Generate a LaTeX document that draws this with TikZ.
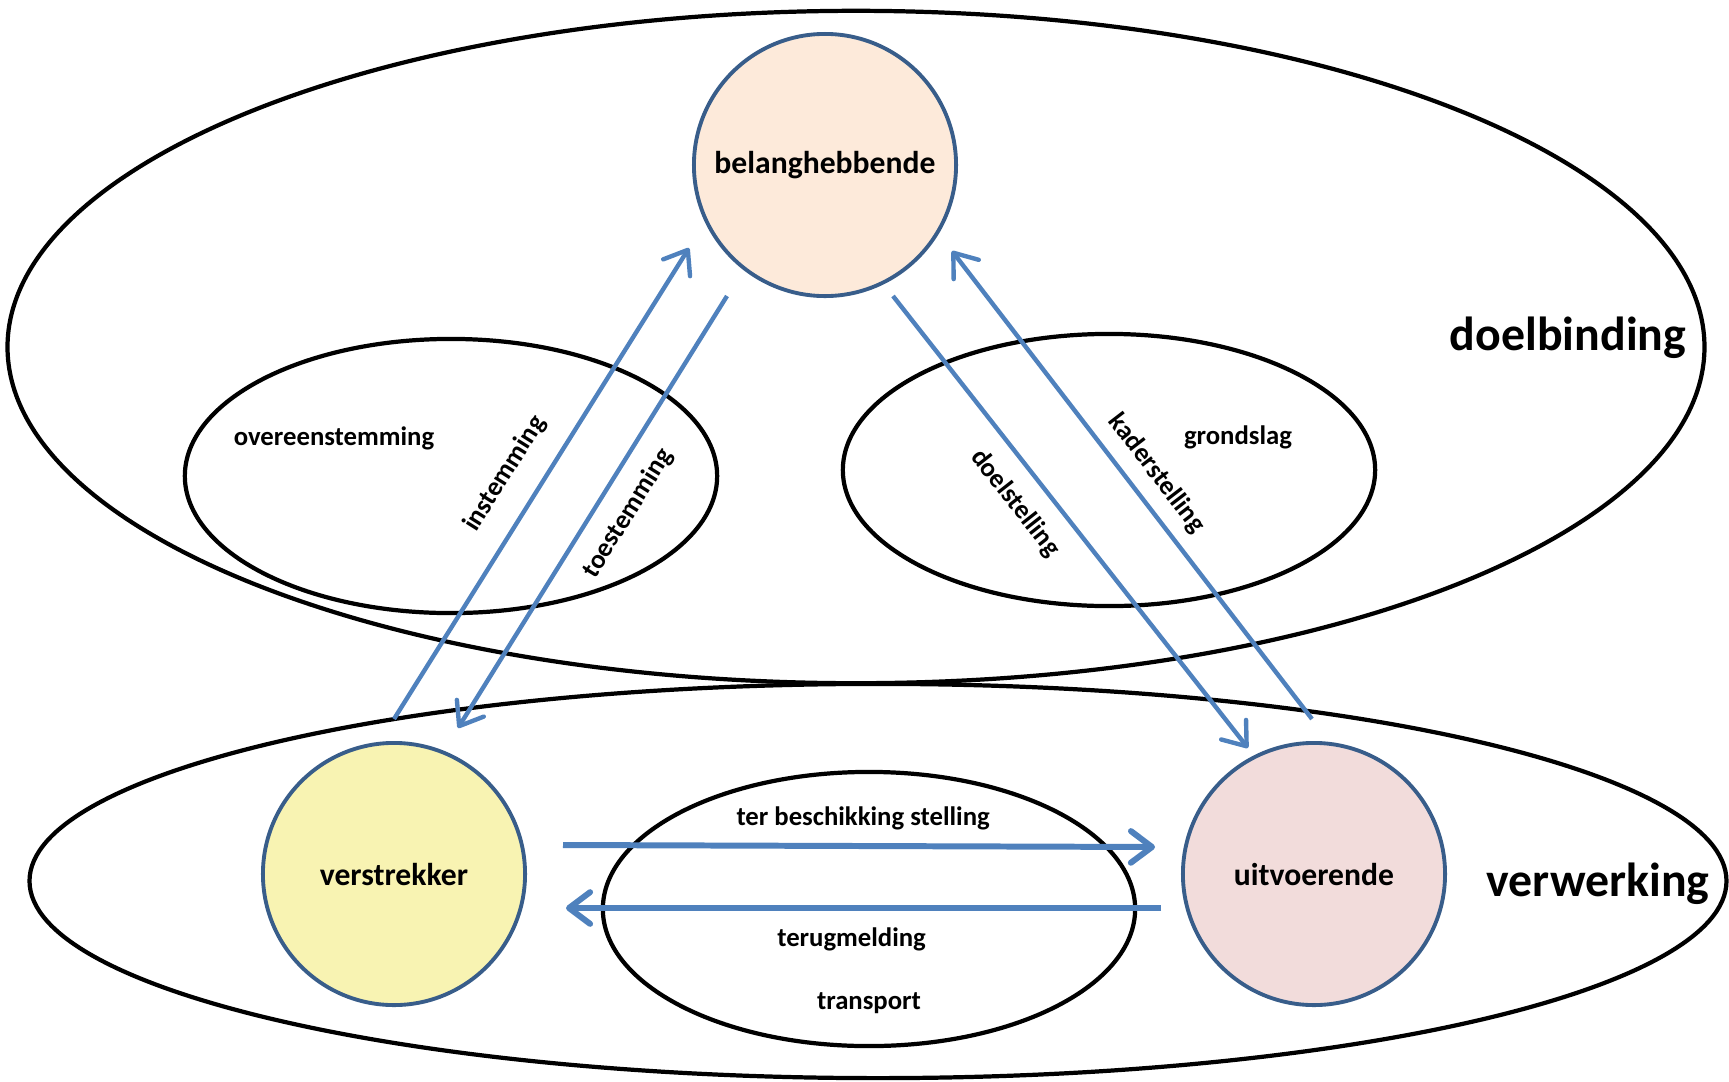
\documentclass[tikz,border=0pt]{standalone}
\usepackage{fontspec}
\setmainfont{Carlito}
\usetikzlibrary{arrows.meta}
\definecolor{arrowblue}{RGB}{79,129,189}
\definecolor{circleline}{RGB}{56,93,138}
\definecolor{stakeholder}{RGB}{253,234,218}
\definecolor{provider}{RGB}{248,243,178}
\definecolor{executor}{RGB}{242,220,219}

\begin{document}
\begin{tikzpicture}[x=0.01cm, y=-0.01cm,
        frame/.style={line width=1.2pt},
        party/.style={circle, draw=circleline, line width=1.1pt, minimum size=2.62cm,
            font=\fontsize{9}{11}\selectfont\bfseries},
        flow/.style={draw=arrowblue, line width=1.25pt, -{Straight Barb[length=6pt, width=9pt, round]}},
        thickflow/.style={flow, line width=1.7pt},
        lbl/.style={font=\fontsize{7.6}{9}\selectfont\bfseries},
        area/.style={font=\fontsize{13.6}{16}\selectfont\bfseries}]
            \useasboundingbox (0,0) rectangle (1729,1081);

            % domains
            \draw[frame] (856,347) ellipse [x radius=8.48cm, y radius=3.36cm];
            \draw[frame] (878,881) ellipse [x radius=8.48cm, y radius=1.97cm];
            \draw[frame] (451,476) ellipse [x radius=2.66cm, y radius=1.37cm];
            \draw[frame] (1109,470) ellipse [x radius=2.66cm, y radius=1.36cm];
            \draw[frame] (869,909) ellipse [x radius=2.66cm, y radius=1.37cm];

            \node[area] (doelbinding) at (1568,338) {doelbinding};
            \node[area] (verwerking) at (1598,884) {verwerking};

            % parties
            \node[party, fill=stakeholder] (belang) at (825,165) {belanghebbende};
            \node[party, fill=provider] (verstr) at (394,874) {verstrekker};
            \node[party, fill=executor] (uitv) at (1314,874) {uitvoerende};

            \node[lbl] (overeen) at (334,438) {overeenstemming};
            \node[lbl] (grond) at (1238,437) {grondslag};
            \node[lbl] (transport) at (869,1003) {transport};

            % arrow ends
            \coordinate (inA) at (394,719);
            \coordinate (inB) at (689,248);
            \coordinate (toA) at (727,296);
            \coordinate (toB) at (458,728);
            \coordinate (doA) at (893,296);
            \coordinate (doB) at (1248,748);
            \coordinate (kaA) at (1312,719);
            \coordinate (kaB) at (952,251);
            \coordinate (tbA) at (563,845);
            \coordinate (tbB) at (1155,847);
            \coordinate (teA) at (1161,908);
            \coordinate (teB) at (566,908);

            \draw[flow] (inA) -- (inB)
                node[lbl, pos=.48, sloped, above=3pt]{instemming};
            \draw[flow] (toA) -- (toB)
                node[lbl, pos=.465, sloped, below=1.5pt]{toestemming};
            \draw[flow] (doA) -- (doB)
                node[lbl, pos=.415, sloped, below=1.8pt]{doelstelling};
            \draw[flow] (kaA) -- (kaB)
                node[lbl, pos=.49, sloped, above=0.3pt]{kaderstelling};
            \draw[thickflow] (tbA) -- (tbB)
                node[lbl, pos=.507, above=0.5pt]{ter beschikking stelling};
            \draw[thickflow] (teA) -- (teB)
                node[lbl, pos=.52, below=1.5pt]{terugmelding};
        \end{tikzpicture}
\end{document}
